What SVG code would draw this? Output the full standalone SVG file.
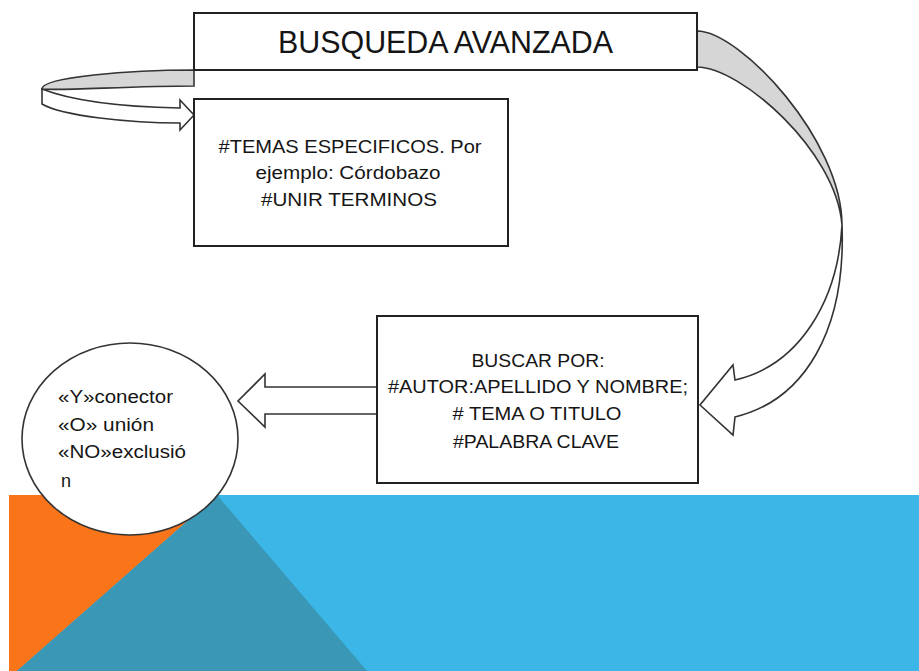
<svg xmlns="http://www.w3.org/2000/svg" width="919" height="671" viewBox="0 0 919 671">
<style>
.box{fill:#fff;stroke:#222;stroke-width:2}
.arr{fill:#fff;stroke:#333;stroke-width:1.6;stroke-linejoin:miter}
.back{fill:#d6d6d6;stroke:#333;stroke-width:1.6}
.t{font-family:"Liberation Sans",Arial,sans-serif;fill:#151515}
.c{text-anchor:middle;font-size:18px}
.e{font-size:18px}
</style>
<rect x="0" y="0" width="919" height="671" fill="#fff"/>
<g id="background">
<polygon points="9,495 919,495 919,671 9,671" fill="#3bb6e6"/>
<polygon points="9,495 217,495 17,671 9,671" fill="#fa741a"/>
<polygon points="217,495 367,671 17,671" fill="#3a97b6"/>
</g>
<g id="connectors">
<path class="arr" d="M42,89 L42,104 C62,116 130,123 180,123 L180,130 L194,115 L180,100 L180,108 C130,107 75,102 42,89 Z"/>
<path class="back" d="M194,70 C130,70 42,77 42,89 C60,91 130,86 194,86 Z"/>
<path class="back" d="M697,31 C740,31 842,140 842,225 C836,150 740,67 697,67 Z"/>
<path class="arr" d="M842,225 C846,330 805,400 735,417 L733,435 L700,405 L733,365 L735,380 C800,365 838,300 842,225 Z"/>
<polygon class="arr" points="377,387 265,387 265,374 238,401 265,427 265,414 377,414"/>
</g>
<g id="title">
<rect class="box" x="194" y="13" width="503" height="57"/>
<text class="t" x="445.5" y="53" font-size="32" text-anchor="middle" textLength="335" lengthAdjust="spacingAndGlyphs">BUSQUEDA AVANZADA</text>
</g>
<g id="temas">
<rect class="box" x="194" y="99" width="314" height="147"/>
<text class="t c" x="350" y="153" textLength="263" lengthAdjust="spacingAndGlyphs">#TEMAS ESPECIFICOS. Por</text>
<text class="t c" x="348" y="179" textLength="185" lengthAdjust="spacingAndGlyphs">ejemplo: Córdobazo</text>
<text class="t c" x="349" y="206" textLength="176" lengthAdjust="spacingAndGlyphs">#UNIR TERMINOS</text>
</g>
<g id="buscar">
<rect class="box" x="377" y="316" width="321" height="167"/>
<text class="t c" x="538" y="367" textLength="133" lengthAdjust="spacingAndGlyphs">BUSCAR POR:</text>
<text class="t c" x="538" y="393" textLength="300" lengthAdjust="spacingAndGlyphs">#AUTOR:APELLIDO Y NOMBRE;</text>
<text class="t c" x="537" y="420" textLength="169" lengthAdjust="spacingAndGlyphs"># TEMA O TITULO</text>
<text class="t c" x="536" y="448" textLength="166" lengthAdjust="spacingAndGlyphs">#PALABRA CLAVE</text>
</g>
<g id="conectores">
<ellipse cx="130" cy="439" rx="108" ry="96" fill="#fff" stroke="#333" stroke-width="1.6"/>
<text class="t e" x="58" y="403" textLength="115" lengthAdjust="spacingAndGlyphs">«Y»conector</text>
<text class="t e" x="58" y="431" textLength="96" lengthAdjust="spacingAndGlyphs">«O» unión</text>
<text class="t e" x="58" y="458" textLength="128" lengthAdjust="spacingAndGlyphs">«NO»exclusió</text>
<text class="t e" x="61" y="487">n</text>
</g>
</svg>
